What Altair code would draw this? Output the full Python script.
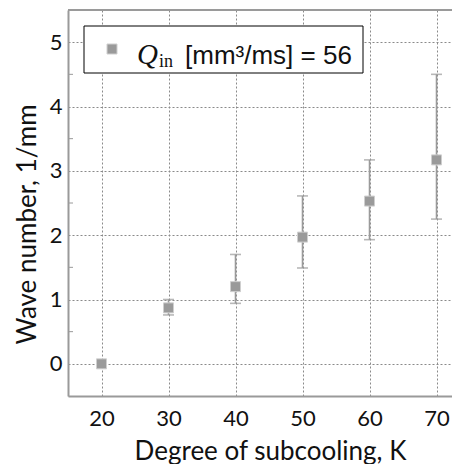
import altair as alt
import pandas as pd

# ---- data ----
subcooling = [20, 30, 40, 50, 60, 70]
wave_number = [0.0, 0.87, 1.20, 1.97, 2.53, 3.17]
err_low = [0.0, 0.76, 0.94, 1.49, 1.93, 2.25]
err_high = [0.0, 1.00, 1.70, 2.61, 3.17, 4.50]
y_ticks = [0, 1, 2, 3, 4, 5]
y_minor = [0.5, 1.5, 2.5, 3.5, 4.5]
legend_q = "Q"
legend_sub = "in"
legend_rest = "[mm³/ms] = 56"

df = pd.DataFrame({"x": subcooling, "y": wave_number, "lo": err_low, "hi": err_high})
minor_df = pd.DataFrame({"m": y_minor})
one = pd.DataFrame({"k": [0]})

W, H = 384, 386
GRAY = "#9a9a9a"
TXT = "#111111"

xs = alt.Scale(domain=[15, 72.31], nice=False, zero=False)
ys = alt.Scale(domain=[-0.5, 5.5], nice=False, zero=False)

x_axis = alt.Axis(
    values=subcooling, title="Degree of subcooling, K", grid=True,
    gridDash=[2, 2], gridColor="#8a8a8a", gridWidth=1, tickSize=0,
    labelFont="Lato", labelFontSize=22, labelPadding=12, labelColor=TXT,
    domainColor=GRAY, domainWidth=2,
    titleFont="Lato", titleFontSize=26, titleFontWeight="normal", titleColor=TXT,
    titleX=202, titleY=63, titleAlign="center", titleBaseline="alphabetic",
)
y_axis = alt.Axis(
    values=y_ticks, title="Wave number, 1/mm", grid=True,
    gridDash=[2, 2], gridColor="#8a8a8a", gridWidth=1, tickSize=0,
    labelFont="Lato", labelFontSize=22, labelPadding=6, labelColor=TXT,
    labelBaseline="middle",
    domainColor=GRAY, domainWidth=2,
    titleFont="Lato", titleFontSize=26, titleFontWeight="normal", titleColor=TXT,
    titleX=-33, titleY=214, titleAlign="center", titleBaseline="alphabetic",
    titleAngle=270,
)

X = alt.X("x:Q", scale=xs, axis=x_axis)

err = alt.Chart(df).mark_rule(color=GRAY, strokeWidth=1.6).encode(
    x=X, y=alt.Y("lo:Q", scale=ys, axis=y_axis), y2="hi:Q"
)
cap_lo = alt.Chart(df).mark_tick(color=GRAY, thickness=1.6, size=11, orient="horizontal").encode(
    x=X, y=alt.Y("lo:Q", scale=ys, axis=y_axis)
)
cap_hi = alt.Chart(df).mark_tick(color=GRAY, thickness=1.6, size=11, orient="horizontal").encode(
    x=X, y=alt.Y("hi:Q", scale=ys, axis=y_axis)
)
pts = alt.Chart(df).mark_square(size=100, fill=GRAY, fillOpacity=1, stroke="#cfcfcf", strokeWidth=1).encode(
    x=X, y=alt.Y("y:Q", scale=ys, axis=y_axis)
)
minor = alt.Chart(minor_df).mark_rule(color=GRAY, strokeWidth=1).encode(
    y=alt.Y("m:Q", scale=ys, axis=y_axis), x=alt.value(0), x2=alt.value(5)
)
top_border = alt.Chart(one).mark_rule(color=GRAY, strokeWidth=2).encode(
    x=alt.value(0), x2=alt.value(W), y=alt.value(0)
)

# ---- legend ----
leg_box = alt.Chart(one).mark_rect(fill="white", stroke="black", strokeWidth=1).encode(
    x=alt.value(16), x2=alt.value(295), y=alt.value(16), y2=alt.value(63)
)
leg_sym = alt.Chart(one).mark_square(size=100, fill=GRAY, fillOpacity=1, stroke="#cfcfcf", strokeWidth=1).encode(
    x=alt.value(44), y=alt.value(39)
)
leg_q = alt.Chart(one).mark_text(
    text=legend_q, font="Liberation Serif", fontStyle="italic", fontSize=29,
    align="left", baseline="alphabetic", color=TXT
).encode(x=alt.value(69), y=alt.value(54))
leg_in = alt.Chart(one).mark_text(
    text=legend_sub, font="Liberation Serif", fontSize=18,
    align="left", baseline="alphabetic", color=TXT
).encode(x=alt.value(91), y=alt.value(57))
leg_rest = alt.Chart(one).mark_text(
    text=legend_rest, font="Liberation Sans", fontSize=26,
    align="left", baseline="alphabetic", color=TXT
).encode(x=alt.value(117), y=alt.value(54))

chart = alt.layer(
    minor, err, cap_lo, cap_hi, pts, top_border,
    leg_box, leg_sym, leg_q, leg_in, leg_rest
).properties(
    width=W, height=H,
    autosize=alt.AutoSizeParams(type="none"),
    padding={"left": 60, "top": 2, "right": 0, "bottom": 68},
).configure_view(stroke=None).configure(background="white")

chart.save("out.html", embed_options={"renderer": "svg", "actions": False})
